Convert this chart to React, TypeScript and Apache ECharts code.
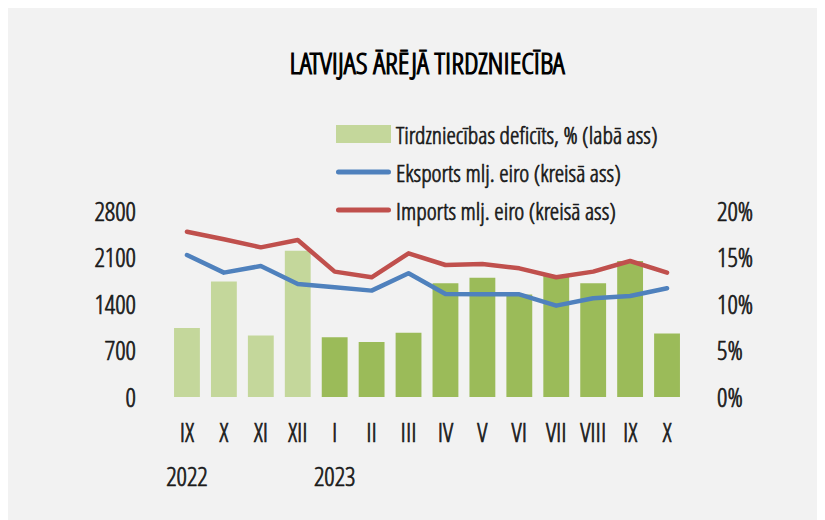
import React, { useEffect, useRef } from "react";
import * as echarts from "echarts";

const months = ["IX", "X", "XI", "XII", "I", "II", "III", "IV", "V", "VI", "VII", "VIII", "IX", "X"];
const years = ["2022", "", "", "", "2023", "", "", "", "", "", "", "", "", ""];
const deficit = [7.4, 12.4, 6.6, 15.7, 6.4, 5.9, 6.9, 12.2, 12.8, 11.0, 13.0, 12.2, 14.6, 6.8];
const exportsData = [2133, 1868, 1968, 1698, 1648, 1598, 1858, 1548, 1543, 1543, 1372, 1483, 1518, 1633];
const importsData = [2483, 2369, 2248, 2358, 1883, 1798, 2158, 1983, 1998, 1933, 1798, 1883, 2043, 1868];
const leftTicks = [0, 700, 1400, 2100, 2800];
const rightTicks = [0, 5, 10, 15, 20];

const FONT = "'Open Sans Condensed Light', 'Roboto Condensed', sans-serif";
const LIGHT = "#c4d79b";
const DARK = "#9bbb59";
const BLUE = "#4f81bd";
const RED = "#c0504d";
const TXT = "#1a1a1a";
const LINE_ICON = "path://M2.5,0 H52.5 A2.5,2.5 0 0 1 52.5,5 H2.5 A2.5,2.5 0 0 1 2.5,0 Z";

const txt = (size: number, extra: any = {}) => ({
  fontFamily: FONT,
  fontSize: size,
  fontWeight: 300,
  color: TXT,
  textBorderColor: TXT,
  textBorderWidth: 0.7,
  ...extra,
});

export default function App() {
  const ref = useRef<HTMLDivElement>(null);
  useEffect(() => {
    const chart = echarts.init(ref.current!, null, { renderer: "svg" });
    const cats = months.map((m, i) => (years[i] ? m + "\n" + years[i] : m));
    chart.setOption({
      animation: false,
      backgroundColor: "#f2f2f2",
      textStyle: { fontFamily: FONT, color: TXT },
      title: {
        text: "LATVIJAS ĀRĒJĀ TIRDZNIECĪBA",
        left: 414,
        top: 49,
        textAlign: "center",
        textVerticalAlign: "middle",
        textStyle: txt(30, { color: "#000", textBorderColor: "#000", textBorderWidth: 1.2 }),
      },
      legend: {
        orient: "vertical",
        left: 323,
        top: 107,
        itemWidth: 55,
        itemHeight: 18,
        itemGap: 10,
        symbolKeepAspect: true,
        textStyle: txt(24, { lineHeight: 28 }),
        data: [
          { name: "Tirdzniecības deficīts, % (labā ass)", icon: "rect" },
          { name: "Eksports mlj. eiro (kreisā ass)", icon: LINE_ICON },
          { name: "Imports mlj. eiro (kreisā ass)", icon: LINE_ICON },
        ],
      },
      grid: { left: 160.5, right: 139.5, top: 202.6, bottom: 123, containLabel: false },
      xAxis: {
        type: "category",
        data: cats,
        axisLine: { show: false },
        axisTick: { show: false },
        axisLabel: { interval: 0, margin: 13, lineHeight: 44, ...txt(26) },
      },
      yAxis: [
        {
          type: "value",
          min: leftTicks[0],
          max: leftTicks[leftTicks.length - 1],
          interval: leftTicks[1] - leftTicks[0],
          splitLine: { show: false },
          axisLine: { show: false },
          axisTick: { show: false },
          axisLabel: { margin: 32.5, formatter: (v: number) => String(v), ...txt(26) },
        },
        {
          type: "value",
          min: rightTicks[0],
          max: rightTicks[rightTicks.length - 1],
          interval: rightTicks[1] - rightTicks[0],
          splitLine: { show: false },
          axisLine: { show: false },
          axisTick: { show: false },
          axisLabel: { margin: 31.5, formatter: "{value}%", ...txt(26) },
        },
      ],
      series: [
        {
          name: "Tirdzniecības deficīts, % (labā ass)",
          type: "bar",
          yAxisIndex: 1,
          barCategoryGap: "30%",
          itemStyle: { color: LIGHT },
          data: deficit.map((v, i) => ({ value: v, itemStyle: { color: i < 4 ? LIGHT : DARK } })),
        },
        {
          name: "Eksports mlj. eiro (kreisā ass)",
          type: "line",
          yAxisIndex: 0,
          symbol: "none",
          showSymbol: false,
          itemStyle: { color: BLUE },
          lineStyle: { color: BLUE, width: 4.5, cap: "round", join: "round" },
          data: exportsData,
          z: 3,
        },
        {
          name: "Imports mlj. eiro (kreisā ass)",
          type: "line",
          yAxisIndex: 0,
          symbol: "none",
          showSymbol: false,
          itemStyle: { color: RED },
          lineStyle: { color: RED, width: 4.5, cap: "round", join: "round" },
          data: importsData,
          z: 3,
        },
      ],
    });
    return () => chart.dispose();
  }, []);
  return <div ref={ref} style={{ width: 817, height: 512 }} />;
}
